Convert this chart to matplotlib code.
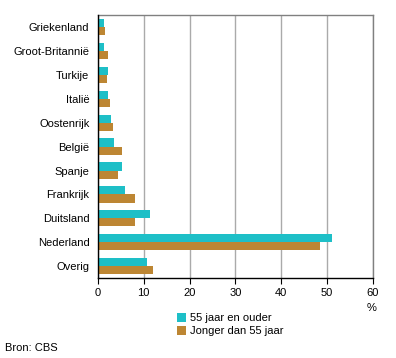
import matplotlib
matplotlib.use('Agg')
import matplotlib.pyplot as plt
import numpy as np

plt.rcParams['font.family'] = ['Liberation Sans', 'DejaVu Sans']
plt.rcParams['font.size'] = 8

# Data
landen = ['Griekenland', 'Groot-Britannië', 'Turkije', 'Italië', 'Oostenrijk',
          'België', 'Spanje', 'Frankrijk', 'Duitsland', 'Nederland', 'Overig']
ouder = [1.3, 1.3, 2.2, 2.2, 2.9, 3.6, 5.3, 6.0, 11.4, 51.0, 10.8]
jonger = [1.6, 2.2, 2.0, 2.7, 3.4, 5.3, 4.4, 8.1, 8.1, 48.4, 12.1]
xticks = [0, 10, 20, 30, 40, 50, 60]

teal = '#1ebfc7'
bruin = '#bd8633'

fig = plt.figure(figsize=(3.96, 3.58), dpi=100)
ax = fig.add_axes([0.247, 0.223, 0.695, 0.735])

y = np.arange(len(landen))
h = 0.34
ax.barh(y - h / 2, ouder, height=h, color=teal, label='55 jaar en ouder', zorder=3)
ax.barh(y + h / 2, jonger, height=h, color=bruin, label='Jonger dan 55 jaar', zorder=3)

ax.set_yticks(y)
ax.set_yticklabels(landen)
ax.set_ylim(len(landen) - 0.5, -0.5)
ax.set_xlim(0, 60)
ax.set_xticks(xticks)
ax.tick_params(axis='y', length=0, pad=6)
ax.tick_params(axis='x', length=4, width=0.8, color='black', pad=3)

ax.grid(axis='x', color='#aaaaaa', linewidth=1, zorder=0)
ax.spines['left'].set_color('black')
ax.spines['bottom'].set_color('black')
ax.spines['top'].set_color('#808080')
ax.spines['right'].set_color('#808080')
for s in ax.spines.values():
    s.set_linewidth(1)
ax.spines['left'].set_zorder(4)

fig.text(0.927, 0.14, '%', ha='left', va='center')

ax.legend(loc='upper left', bbox_to_anchor=(0.448, 0.125), bbox_transform=fig.transFigure,
          frameon=False, handlelength=0.8, handleheight=0.8, handletextpad=0.3,
          labelspacing=0.25, borderaxespad=0, borderpad=0)

fig.text(0.012, 0.028, 'Bron: CBS', ha='left', va='center')

plt.savefig('out.png', dpi=100)
